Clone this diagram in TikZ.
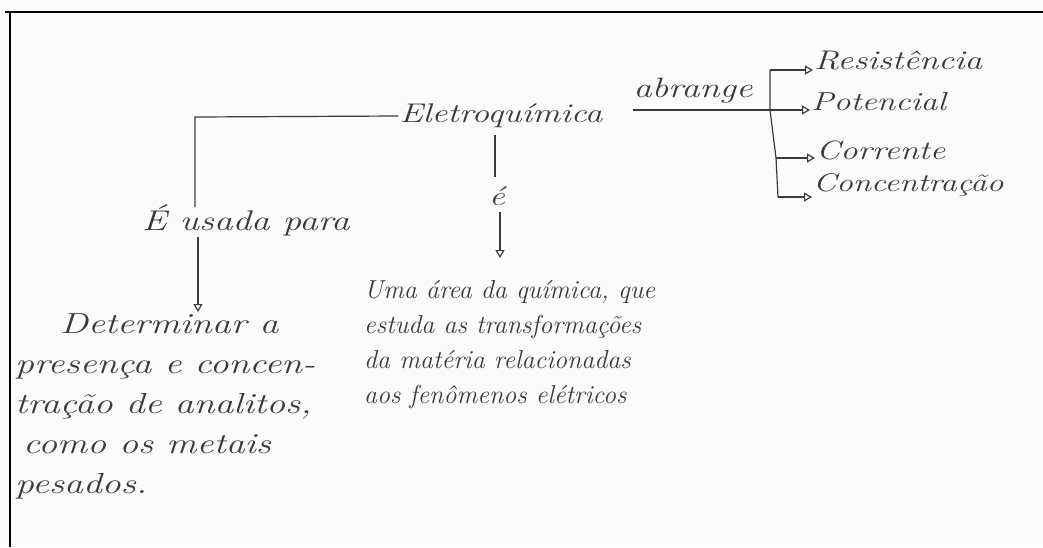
\documentclass[tikz,border=0pt]{standalone}
\usepackage{fontspec}
\usetikzlibrary{arrows.meta}
\newfontfamily\hand[FakeStretch=1.3]{Latin Modern Roman}
\newfontfamily\handnarrow{Latin Modern Roman}
\definecolor{ink}{HTML}{3A3A3A}
\definecolor{paper}{HTML}{FBFBFB}
\newcommand\handsz[2]{\fontsize{#1}{#2}\selectfont}
\begin{document}
\begin{tikzpicture}[x=1pt,y=-1pt,
  txt/.style={inner sep=1pt,text=ink,font=\hand\itshape\handsz{27}{34}},
  block/.style={txt,align=left,anchor=north west},
  conn/.style={draw=ink,line width=1.2pt},
  arr/.style={conn,-{Triangle[open,length=8pt,width=9pt]}}]
% page and frame
\fill[paper] (0,0) rectangle (1043,547);
\useasboundingbox (0,0) rectangle (1043,547);
\draw[line width=2pt,black] (5,12) -- (1043,12);
\draw[line width=2pt,black] (10,12) -- (10,547);

% central concept
\node[txt] (eq) at (501,116) {Eletroquímica};

% left branch: "É usada para"
\node[txt,font=\hand\itshape\handsz{28.5}{34}] (usada) at (246,220) {É usada para};
\coordinate (lc) at (195,117);
\coordinate (ltop) at (195,207);
\coordinate (lbot) at (198,237);
\node[block,font=\hand\itshape\handsz{29}{40}] (det) at (14,312)
  {\hspace*{45pt}Determinar a\\presença e concen-\\tração de analitos,\\\hspace*{8pt}como os metais\\pesados.};
\draw[conn] (eq.west) -- (lc) -- (ltop);
\draw[arr] (lbot) -- (lbot |- det.north);

% middle branch: "é"
\node[txt] (e) at (497,196) {é};
\coordinate (mtop) at (495,135);
\coordinate (mmid) at (495,177);
\coordinate (mlow) at (500,212);
\node[block,font=\handnarrow\itshape\handsz{26}{35}] (area) at (363,279)
  {Uma área da química, que\\estuda as transformações\\da matéria relacionadas\\aos fenômenos elétricos};
\draw[conn] (mtop) -- (mmid);
\draw[arr] (mlow) -- ([yshift=21pt]mlow |- area.north);

% right branch: "abrange"
\coordinate (a0) at (633,110);
\coordinate (b1) at (770,70);
\coordinate (b2) at (770,110);
\coordinate (b3) at (776,158);
\coordinate (b4) at (778,197);
\node[txt,font=\hand\itshape\handsz{28}{34}] (abr) at (693,91) {abrange};
\node[txt,anchor=west] (res) at (813,61) {Resistência};
\node[txt,anchor=west,font=\hand\itshape\handsz{26}{34}] (pot) at (810,102) {Potencial};
\node[txt,anchor=west,font=\hand\itshape\handsz{26.5}{34}] (cor) at (815,150) {Corrente};
\node[txt,anchor=west,font=\hand\itshape\handsz{25.5}{34}] (con) at (812,185) {Concentração};
\draw[conn] (a0) -- (b2);
\draw[conn] (b1) -- (b2) -- (b3) -- (b4);
\draw[arr] (b1) -- (b1 -| res.west);
\draw[arr] (b2) -- (b2 -| pot.west);
\draw[arr] (b3) -- (b3 -| cor.west);
\draw[arr] (b4) -- (b4 -| con.west);
\end{tikzpicture}
\end{document}
